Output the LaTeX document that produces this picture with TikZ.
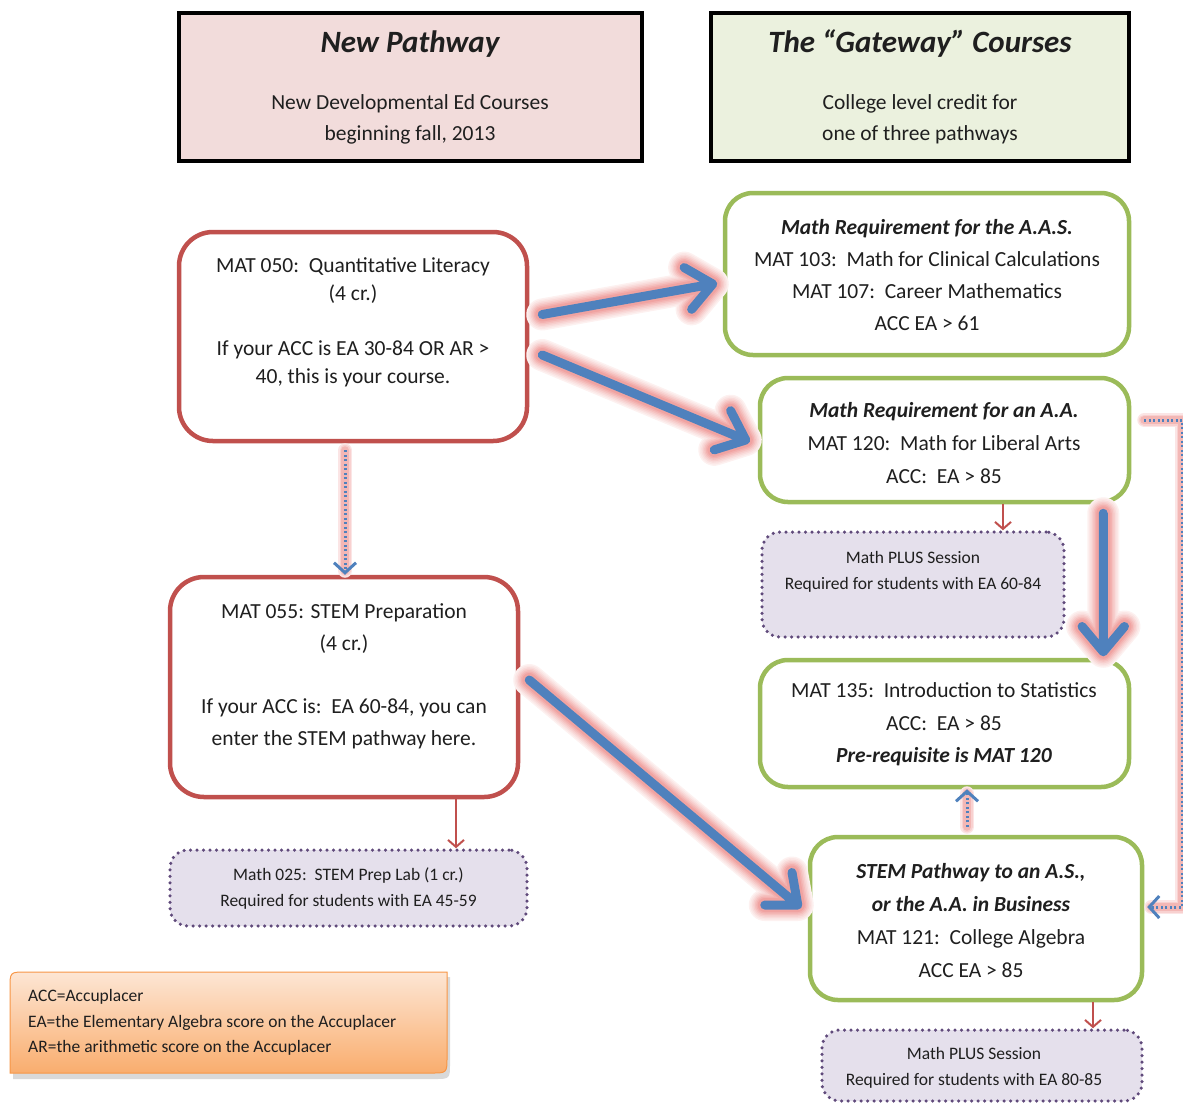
\documentclass[tikz,border=0pt]{standalone}
\usepackage{fontspec}
\setmainfont{Carlito}
\usetikzlibrary{arrows.meta,calc}
\definecolor{hpink}{HTML}{F2DCDB}
\definecolor{hgreen}{HTML}{EBF1DE}
\definecolor{cred}{HTML}{C0504D}
\definecolor{cgreen}{HTML}{9BBB59}
\definecolor{cpurple}{HTML}{604A7B}
\definecolor{cpfill}{HTML}{E5E0EC}
\definecolor{cblue}{HTML}{4F81BD}
\definecolor{cglow}{HTML}{E86F6C}
\definecolor{ctext}{HTML}{1F1F1F}
\definecolor{orangetop}{HTML}{FDE6D4}
\definecolor{orangebot}{HTML}{F9AD6E}
\definecolor{corange}{HTML}{F79646}
\newcommand{\mkglowarrow}[2]{%
  \foreach \gw/\gc in {32/10,29/17,26/25,23/34,20/44,17/54,14/64}{%
    \draw[draw=cglow!\gc, line width=\gw pt, line cap=round, line join=round]
      (#1) -- (#2) ($(#2)!33pt!40:(#1)$) -- (#2) -- ($(#2)!33pt!-40:(#1)$);}
  \draw[bigarrow] (#1) -- (#2) ($(#2)!33pt!40:(#1)$) -- (#2) -- ($(#2)!33pt!-40:(#1)$);}
\begin{document}
\begin{tikzpicture}[x=1pt,y=-1pt,
  every node/.style={text=ctext},
  headbox/.style={draw=black, line width=3.5pt, rectangle, inner sep=0pt},
  redbox/.style={draw=cred, line width=4.5pt, rounded corners=34pt, fill=white, inner sep=0pt},
  greenbox/.style={draw=cgreen, line width=4.5pt, rounded corners=28pt, fill=white, inner sep=0pt},
  plusbox/.style={draw=cpurple, line width=3.5pt, dash pattern=on 0pt off 6.5pt, line cap=round, rounded corners=18pt, fill=cpfill, inner sep=0pt},
  txt/.style={align=center, inner sep=0pt},
  bodyfont/.style={font=\fontsize{21.5}{#1}\selectfont},
  smallfont/.style={font=\fontsize{17.5}{#1}\selectfont},
  bigarrow/.style={draw=cblue, line width=9pt, line cap=round, line join=round},
  glowline/.style={draw=cglow!#1, solid},
  dotarrow/.style={draw=cblue, line width=3pt, dash pattern=on 2pt off 2.5pt, -{Straight Barb[length=10pt,width=22pt]}},
  redarrow/.style={draw=cred, line width=2pt, -{Straight Barb[length=7pt,width=16pt]}},
]
\useasboundingbox (0,0) rectangle (1183,1104);

% header boxes
\node[headbox, fill=hpink, minimum width=463pt, minimum height=148pt] (h1) at (410.5,87) {};
\node[txt, font=\fontsize{31}{36}\selectfont\bfseries\itshape] (h1t) at (410,44) {New Pathway};
\node[txt, bodyfont=31] (h1s) at (410,119.5) {New Developmental Ed Courses\\beginning fall, 2013};

\node[headbox, fill=hgreen, minimum width=418pt, minimum height=148pt] (h2) at (920,87) {};
\node[txt, font=\fontsize{31}{36}\selectfont\bfseries\itshape] (h2t) at (920,44) {The “Gateway” Courses};
\node[txt, bodyfont=31] (h2s) at (920,119.5) {College level credit for\\one of three pathways};

% left column
\node[redbox, minimum width=348pt, minimum height=209pt] (q050) at (353,336.5) {};
\node[txt, bodyfont=28] (q050t) at (353,322) {MAT 050:\ \ Quantitative Literacy\\(4 cr.)\\[27pt]If your ACC is EA 30-84 OR AR >\\40, this is your course.};

\node[redbox, minimum width=348pt, minimum height=220pt] (m055) at (344,687) {};
\node[txt, bodyfont=31.5] (m055t) at (344,676.5) {MAT 055: STEM Preparation\\(4 cr.)\\[32pt]If your ACC is:\ \ EA 60-84, you can\\enter the STEM pathway here.};

\node[plusbox, minimum width=357pt, minimum height=76pt] (lab025) at (348.5,888) {};
\node[txt, smallfont=26] (lab025t) at (348.5,888) {Math 025:\ \ STEM Prep Lab (1 cr.)\\Required for students with EA 45-59};

% right column
\node[greenbox, minimum width=404pt, minimum height=162pt] (aas) at (927,274) {};
\node[txt, bodyfont=32] (aast) at (927,275) {\textbf{\textit{Math Requirement for the A.A.S.}}\\MAT 103:\ \ Math for Clinical Calculations\\MAT 107:\ \ Career Mathematics\\ACC EA > 61};

\node[greenbox, minimum width=369pt, minimum height=124pt] (aa) at (944.5,440) {};
\node[txt, bodyfont=33] (aat) at (944,443) {\textbf{\textit{Math Requirement for an A.A.}}\\MAT 120:\ \ Math for Liberal Arts\\ACC:\ \ EA > 85};

\node[plusbox, minimum width=302pt, minimum height=105pt] (plus1) at (913,584.5) {};
\node[txt, smallfont=26] (plus1t) at (913,572) {Math PLUS Session\\Required for students with EA 60-84};

\node[greenbox, minimum width=369pt, minimum height=127pt] (m135) at (944.5,723.5) {};
\node[txt, bodyfont=32.5] (m135t) at (944,724.5) {MAT 135:\ \ Introduction to Statistics\\ACC:\ \ EA > 85\\\textbf{\textit{Pre-requisite is MAT 120}}};

\node[greenbox, minimum width=332pt, minimum height=163pt] (stem) at (976,918.5) {};
\node[txt, bodyfont=33] (stemt) at (971,920.5) {\textbf{\textit{STEM Pathway to an A.S.,}}\\\textbf{\textit{or the A.A. in Business}}\\MAT 121:\ \ College Algebra\\ACC EA > 85};

\node[plusbox, minimum width=320pt, minimum height=71pt] (plus2) at (982,1065.5) {};
\node[txt, smallfont=26] (plus2t) at (974,1068) {Math PLUS Session\\Required for students with EA 80-85};

% legend
\fill[black, opacity=0.15] (13,1079) -- (13,993) .. controls (13,977) .. (29,977) -- (450,977) -- (450,1063) .. controls (450,1079) .. (434,1079) -- cycle;
\shade[top color=orangetop, bottom color=orangebot, draw=corange, line width=1pt]
  (10,1073) -- (10,988) .. controls (10,972) .. (26,972) -- (447,972) -- (447,1057) .. controls (447,1073) .. (431,1073) -- cycle;
\node[txt, align=left, anchor=west, smallfont=25.5] (legt) at (28,1022.5) {ACC=Accuplacer\\EA=the Elementary Algebra score on the Accuplacer\\AR=the arithmetic score on the Accuplacer};

% big arrows
\coordinate (a1s) at ($(q050.east)+(13,-22)$);
\coordinate (a1e) at ($(aas.west)+(-10,10)$);
\coordinate (a2s) at ($(q050.east)+(13,18.5)$);
\coordinate (a2e) at ($(aa.west)+(-12,0)$);
\coordinate (a3s) at ($(m055.east)+(9,-7)$);
\coordinate (a3e) at ($(stem.west)+(-10,-13.5)$);
\coordinate (a4s) at ($(aa.south east)+(-28,9)$);
\coordinate (a4e) at ($(m135.north east)+(-28,-6)$);
\mkglowarrow{a1s}{a1e}
\mkglowarrow{a2s}{a2e}
\mkglowarrow{a3s}{a3e}
\mkglowarrow{a4s}{a4e}

% dotted arrows
\coordinate (d1s) at ($(q050.south)+(-8,7)$);
\coordinate (d1e) at (d1s |- m055.north);
\coordinate (d2s) at ($(stem.north)+(-9,-8)$);
\coordinate (d2e) at (d2s |- m135.south);
\coordinate (rs) at ($(aa.east)+(13,-20)$);
\coordinate (re) at ($(stem.east)+(3,-11.5)$);
\foreach \gw/\gc in {14/18,11/32,8/50}{
  \draw[glowline=\gc, line width=\gw pt, line cap=round] (d1s) -- ($(d1e)+(0,-4)$);
  \draw[glowline=\gc, line width=\gw pt, line cap=round] (d2s) -- ($(d2e)+(0,4)$);
  \draw[glowline=\gc, line width=\gw pt, line cap=round, line join=round] (rs) -- ++(38,0) |- ($(re)+(4,0)$);
}
\draw[dotarrow] (d1s) -- (d1e);
\draw[dotarrow] (d2s) -- (d2e);
\draw[dotarrow] (rs) -- ++(38,0) |- (re);

% red thin arrows
\coordinate (r1s) at ($(aa.south)+(58.5,0)$);
\coordinate (r1e) at (r1s |- plus1.north);
\draw[redarrow] (r1s) -- (r1e);
\coordinate (r2s) at ($(m055.south)+(112,0)$);
\coordinate (r2e) at (r2s |- lab025.north);
\draw[redarrow] (r2s) -- (r2e);
\coordinate (r3s) at ($(stem.south)+(117,0)$);
\coordinate (r3e) at (r3s |- plus2.north);
\draw[redarrow] (r3s) -- (r3e);
\end{tikzpicture}
\end{document}
